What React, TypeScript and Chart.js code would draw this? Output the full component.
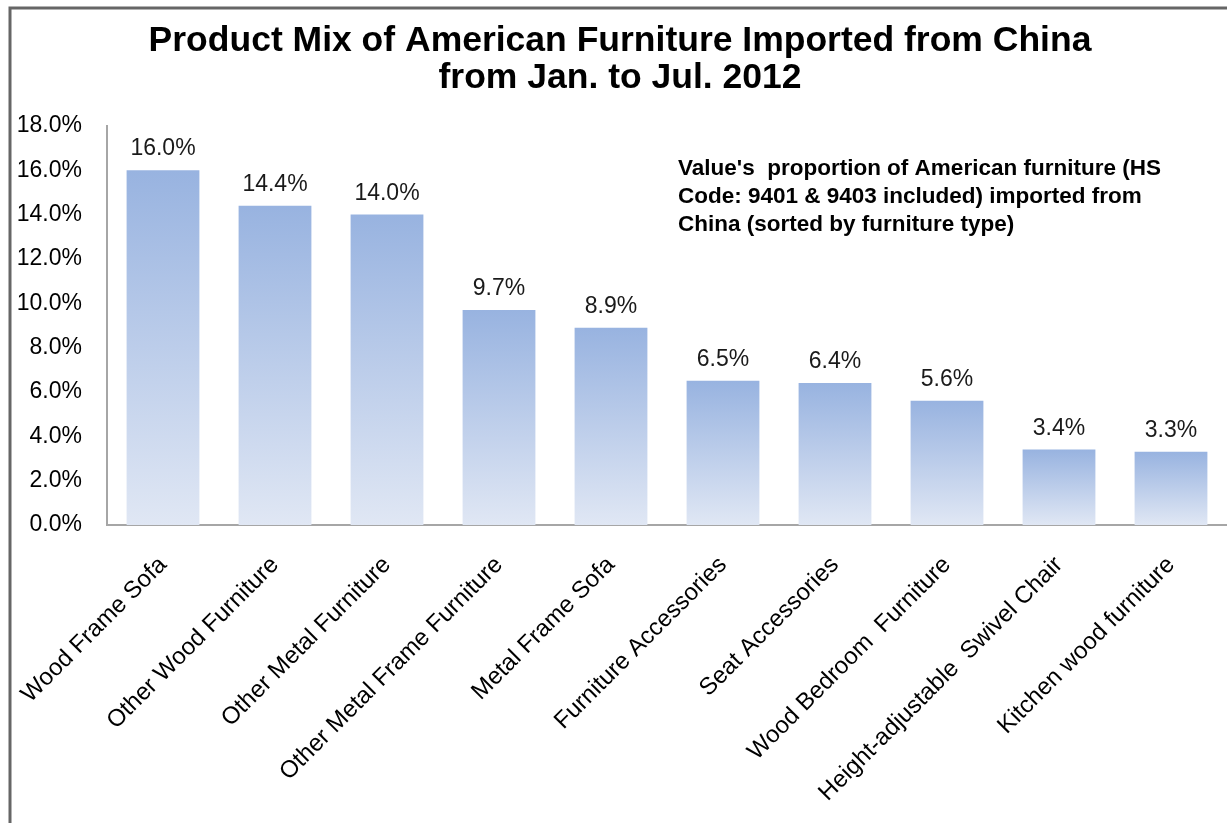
import React, { useEffect, useRef } from "react";
import { Chart, registerables } from "chart.js";

Chart.register(...registerables);

const categories = [
  "Wood Frame Sofa",
  "Other Wood Furniture",
  "Other Metal Furniture",
  "Other Metal Frame Furniture",
  "Metal Frame Sofa",
  "Furniture Accessories",
  "Seat Accessories",
  "Wood Bedroom  Furniture",
  "Height-adjustable  Swivel Chair",
  "Kitchen wood furniture",
];
const shares = [16.0, 14.4, 14.0, 9.7, 8.9, 6.5, 6.4, 5.6, 3.4, 3.3];
const titleLines = [
  "Product Mix of American Furniture Imported from China",
  "from Jan. to Jul. 2012",
];
const noteLines = [
  "Value's  proportion of American furniture (HS",
  "Code: 9401 & 9403 included) imported from",
  "China (sorted by furniture type)",
];
const yMin = 0;
const yMax = 18;
const yStep = 2;

const FONT = "Arial, 'Liberation Sans', sans-serif";

const decorPlugin = {
  id: "decor",
  afterDraw(chart: any) {
    const { ctx } = chart;
    ctx.save();
    // frame
    ctx.strokeStyle = "#666666";
    ctx.lineWidth = 3;
    ctx.beginPath();
    ctx.moveTo(10, 823);
    ctx.lineTo(10, 8);
    ctx.lineTo(1227, 8);
    ctx.stroke();
    // value labels
    const meta = chart.getDatasetMeta(0);
    ctx.fillStyle = "#1a1a1a";
    ctx.font = `23px ${FONT}`;
    ctx.textAlign = "center";
    ctx.textBaseline = "alphabetic";
    meta.data.forEach((bar: any, i: number) => {
      ctx.fillText(shares[i].toFixed(1) + "%", bar.x, bar.y - 15);
    });
    // note
    ctx.font = `bold 22.5px ${FONT}`;
    ctx.textAlign = "left";
    ctx.fillStyle = "#000000";
    noteLines.forEach((line, i) => {
      ctx.fillText(line, 678, 175 + i * 28);
    });
    ctx.restore();
  },
};

export default function App() {
  const ref = useRef<HTMLCanvasElement | null>(null);
  useEffect(() => {
    if (!ref.current) return;
    const chart = new Chart(ref.current, {
      type: "bar",
      data: {
        labels: categories,
        datasets: [
          {
            data: shares,
            backgroundColor: (c: any) => {
              const chart = c.chart;
              const { ctx, chartArea, scales } = chart;
              if (!chartArea || c.raw === undefined) return "#9AB4E0";
              const top = scales.y.getPixelForValue(c.raw);
              const bottom = scales.y.getPixelForValue(0);
              const g = ctx.createLinearGradient(0, top, 0, bottom);
              g.addColorStop(0, "#98B3E0");
              g.addColorStop(1, "#E0E7F4");
              return g;
            },
            borderWidth: 0,
            categoryPercentage: 1,
            barPercentage: 0.65,
          },
        ],
      },
      options: {
        animation: false,
        responsive: false,
        layout: { padding: { left: 13, right: 0, top: 0, bottom: 0 } },
        plugins: {
          legend: { display: false },
          tooltip: { enabled: false },
          title: {
            display: true,
            text: titleLines,
            color: "#000000",
            font: { family: FONT, size: 35.5, weight: "bold", lineHeight: 1.04 },
            padding: { top: 23, bottom: 29 },
          },
        },
        scales: {
          x: {
            grid: { display: false, drawTicks: false },
            border: { display: true, color: "#A6A6A6", width: 2 },
            ticks: {
              color: "#000000",
              font: { family: FONT, size: 24 },
              minRotation: 45,
              maxRotation: 45,
              autoSkip: false,
              padding: 26,
            },
            afterFit: (s: any) => {
              s.height = 298;
              s.paddingLeft = 0;
              s.paddingRight = 0;
            },
          },
          y: {
            min: yMin,
            max: yMax,
            grid: { display: false, drawTicks: false },
            border: { display: true, color: "#A6A6A6", width: 2 },
            ticks: {
              stepSize: yStep,
              color: "#000000",
              font: { family: FONT, size: 23 },
              padding: 25,
              callback: (v: any) => Number(v).toFixed(1) + "%",
            },
            afterFit: (s: any) => {
              s.width = 94;
            },
          },
        },
      },
      plugins: [decorPlugin],
    });
    return () => chart.destroy();
  }, []);
  return (
    <div style={{ position: "fixed", left: 0, top: 0, width: 1227, height: 823, background: "#ffffff" }}>
      <canvas ref={ref} width={1227} height={823} style={{ display: "block" }} />
    </div>
  );
}
